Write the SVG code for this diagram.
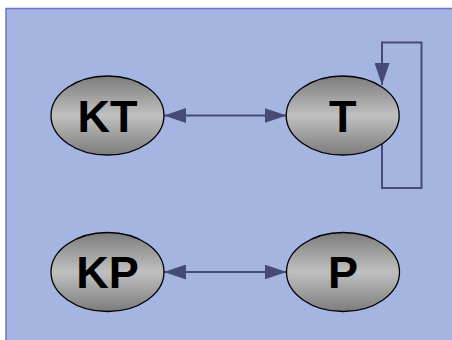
<svg xmlns="http://www.w3.org/2000/svg" width="452" height="340" viewBox="0 0 452 340">
<style>
.node ellipse{fill:url(#g);stroke:#000;stroke-width:1.3}
.node text{font-family:"Liberation Sans",Arial,sans-serif;font-weight:bold;font-size:45px;text-anchor:middle;fill:#000}
.edge{fill:none;stroke:#474a74;stroke-width:2}
</style>
<defs>
<linearGradient id="g" x1="0" y1="0" x2="0" y2="1">
<stop offset="0" stop-color="#7c7c7c"/>
<stop offset="0.5" stop-color="#c0c0c0"/>
<stop offset="1" stop-color="#7c7c7c"/>
</linearGradient>
<marker id="ah" viewBox="0 0 22 15" refX="22" refY="7.5" markerWidth="22" markerHeight="15" markerUnits="userSpaceOnUse" orient="auto-start-reverse">
<path d="M0,0 L22,7.5 L0,15 Z" fill="#474a74"/>
</marker>
</defs>
<rect x="6" y="8.5" width="460" height="340" fill="#a5b5e1" stroke="#6b73c8" stroke-width="1.5"/>
<g id="connectors">
<line class="edge" x1="164" y1="115.5" x2="286.5" y2="115.5" marker-start="url(#ah)" marker-end="url(#ah)"/>
<line class="edge" x1="164" y1="272" x2="286.5" y2="272" marker-start="url(#ah)" marker-end="url(#ah)"/>
<polyline class="edge" points="382,142 382,188 421.5,188 421.5,42.5 382,42.5 382,85" marker-end="url(#ah)"/>
</g>
<g id="KT" class="node"><ellipse cx="107.5" cy="115.5" rx="56.5" ry="39.5"/><text x="107.5" y="131.5">KT</text></g>
<g id="T" class="node"><ellipse cx="342.7" cy="115.5" rx="56.5" ry="39.5"/><text x="342.7" y="131.5">T</text></g>
<g id="KP" class="node"><ellipse cx="107.5" cy="272" rx="56.5" ry="39.5"/><text x="107.5" y="288">KP</text></g>
<g id="P" class="node"><ellipse cx="343" cy="272" rx="56.5" ry="39.5"/><text x="343" y="288">P</text></g>
</svg>
